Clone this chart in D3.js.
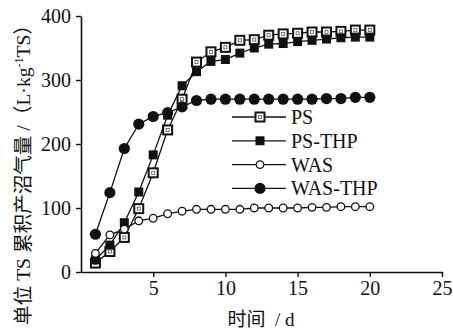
<!DOCTYPE html>
<html>
<head>
<meta charset="utf-8">
<script src="https://cdn.jsdelivr.net/npm/d3@7"></script>
<style>
  body { margin: 0; background: #fff; }
  text { font-family: "Liberation Serif", "Noto Sans CJK SC", serif; fill: #111; }
</style>
</head>
<body>
<script>
// days and cumulative biogas per series (L/kg TS)
const days = d3.range(1, 21);
const ps     = [14, 32, 54, 99, 155, 222, 270, 328, 344, 351, 362, 363, 370, 372, 373, 375, 375, 376, 378, 378];
const psThp  = [19, 42, 77, 125, 183, 245, 291, 313, 329, 332, 342, 350, 356, 357, 360, 362, 364, 366, 367, 367];
const was    = [29, 58, 67, 80, 84, 91, 95, 98, 98, 98, 98, 100, 100, 100, 100, 101, 101, 102, 102, 102];
const wasThp = [59, 124, 193, 231, 243, 249, 258, 268, 270, 270, 270, 270, 270, 270, 270, 270, 271, 271, 273, 273];
const xTicks = [0, 5, 10, 15, 20, 25];
const yTicks = [0, 100, 200, 300, 400];

const width = 453, height = 336;
const svg = d3.select("body").append("svg")
    .attr("width", width)
    .attr("height", height);

const x = d3.scaleLinear().domain([0, 25]).range([81, 442]);
const y = d3.scaleLinear().domain([0, 400]).range([272, 16]);

// axes
const xAxis = svg.append("g")
    .attr("transform", "translate(0," + y(0) + ")")
    .call(d3.axisBottom(x).tickValues(xTicks).tickSize(5).tickSizeOuter(0).tickPadding(4));
const yAxis = svg.append("g")
    .attr("transform", "translate(" + x(0) + ",0)")
    .call(d3.axisLeft(y).tickValues(yTicks).tickSize(5).tickSizeOuter(0).tickPadding(5));

[xAxis, yAxis].forEach(g => {
    g.select(".domain").attr("stroke", "#111").attr("stroke-width", 1.6);
    g.selectAll(".tick line").attr("stroke", "#111").attr("stroke-width", 1.4);
    g.selectAll(".tick text").style("font-size", "20px").attr("fill", "#111");
});
xAxis.selectAll(".tick").filter(d => d === 0).select("line").remove();
xAxis.selectAll(".tick").filter(d => d === 0).select("text").remove();

const series = [
    { name: "PS", values: ps, marker: "openSquare" },
    { name: "PS-THP", values: psThp, marker: "filledSquare" },
    { name: "WAS", values: was, marker: "openCircle" },
    { name: "WAS-THP", values: wasThp, marker: "filledCircle" }
];

const line = d3.line()
    .x((d, i) => x(days[i]))
    .y(d => y(d));

function drawMarker(g, type, cx, cy) {
    if (type === "openSquare") {
        g.append("rect").attr("x", cx - 4.5).attr("y", cy - 4.5).attr("width", 9).attr("height", 9)
            .attr("fill", "#fff").attr("stroke", "#111").attr("stroke-width", 2);
        g.append("rect").attr("x", cx - 1.5).attr("y", cy - 1.5).attr("width", 3).attr("height", 3)
            .attr("fill", "#fff").attr("stroke", "#555").attr("stroke-width", 0.8);
    } else if (type === "filledSquare") {
        g.append("rect").attr("x", cx - 4.5).attr("y", cy - 4.5).attr("width", 9).attr("height", 9)
            .attr("fill", "#111");
    } else if (type === "openCircle") {
        g.append("circle").attr("cx", cx).attr("cy", cy).attr("r", 3.8)
            .attr("fill", "#fff").attr("stroke", "#111").attr("stroke-width", 1.3);
    } else {
        g.append("circle").attr("cx", cx).attr("cy", cy).attr("r", 5.6)
            .attr("fill", "#111");
    }
}

series.forEach(s => {
    const g = svg.append("g");
    g.append("path")
        .attr("d", line(s.values))
        .attr("fill", "none")
        .attr("stroke", "#111")
        .attr("stroke-width", 1.3);
    s.values.forEach((v, i) => drawMarker(g, s.marker, x(days[i]), y(v)));
});

// legend
const legend = svg.append("g");
series.forEach((s, i) => {
    const ly = 117 + i * 23.8;
    legend.append("line")
        .attr("x1", 232).attr("x2", 286).attr("y1", ly).attr("y2", ly)
        .attr("stroke", "#111").attr("stroke-width", 1.3);
    drawMarker(legend, s.marker, 260, ly);
    legend.append("text")
        .attr("x", 291).attr("y", ly + 7)
        .style("font-size", "20px")
        .text(s.name);
});

// axis titles
svg.append("text")
    .attr("x", 261).attr("y", 326)
    .attr("text-anchor", "middle")
    .style("font-size", "19px")
    .style("white-space", "pre")
    .attr("xml:space", "preserve")
    .text("时间  / d");

const yTitle = svg.append("text")
    .attr("transform", "translate(30,170) rotate(-90)")
    .attr("text-anchor", "middle")
    .style("font-size", "19.6px");
yTitle.append("tspan").text("单位 TS 累积产沼气量 /（L·kg");
yTitle.append("tspan").attr("dy", -7).style("font-size", "12px").text("-1");
yTitle.append("tspan").attr("dy", 7).text("TS）");
</script>
</body>
</html>
